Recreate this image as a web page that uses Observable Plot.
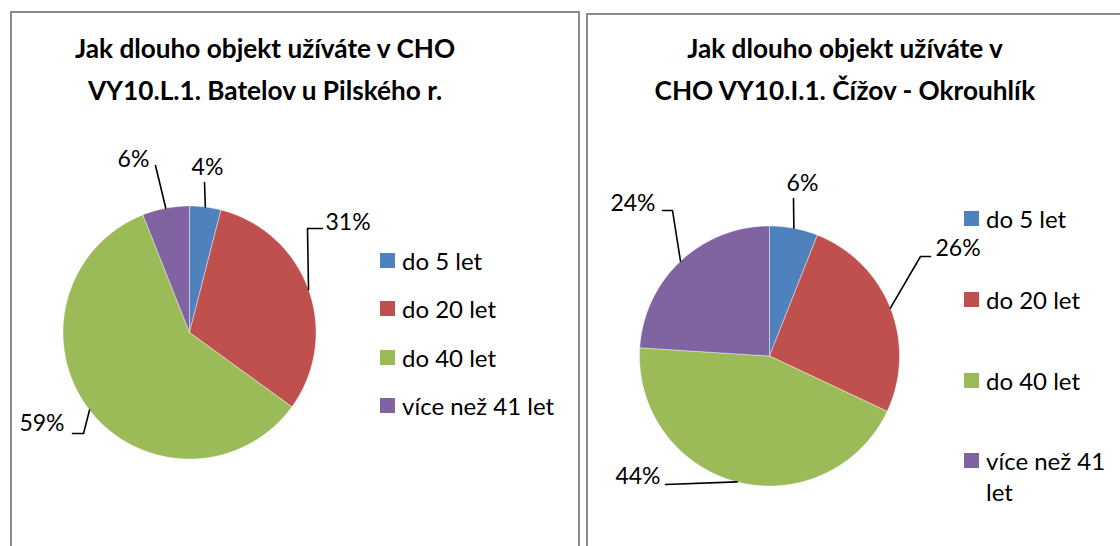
<!DOCTYPE html>
<html><head><meta charset="utf-8">
<script src="https://cdn.jsdelivr.net/npm/d3@7"></script>
<script src="https://cdn.jsdelivr.net/npm/@observablehq/plot@0.6"></script>
<style>
body{margin:0;background:#fff;}
#page{position:relative;width:1120px;height:546px;overflow:hidden;font-family:Lato,"Open Sans",sans-serif;color:#000;}
.panel{position:absolute;border:2px solid #8a8a8a;border-bottom:none;box-sizing:border-box;}
.title{position:absolute;width:560px;text-align:center;font-weight:bold;font-size:26.2px;line-height:42px;white-space:nowrap;}
.sw{position:absolute;width:15px;height:15px;}
.lt{position:absolute;font-size:24px;line-height:31px;}
.pie{position:absolute;top:0;}
</style></head><body><div id="page"></div>
<script>
// ---- data ----
const categories = ["do 5 let", "do 20 let", "do 40 let", "více než 41 let"];
const colors = ["#4F81BD", "#C0504D", "#9BBB59", "#8064A2"];
const titleBatelov = ["Jak dlouho objekt užíváte v CHO", "VY10.L.1. Batelov u Pilského r."];
const titleCizov = ["Jak dlouho objekt užíváte v", "CHO VY10.I.1. Čížov - Okrouhlík"];
const valuesBatelov = [4, 31, 59, 6];
const valuesCizov = [6, 26, 44, 24];

// ---- layout (pixels) ----
const panels = [
  {
    title: titleBatelov, values: valuesBatelov,
    box: {left: 10, top: 11, width: 570, height: 600, rightBorder: true},
    svgLeft: 0, svgWidth: 580, cx: 189, cy: 332, r: 126.5,
    titleX: 265, legendX: 380, legendRows: [260, 308, 357, 405], legendWrap: 200,
    // per slice: leader bend points and label position, relative to pie centre (px, y down)
    labels: [
      {bends: [[15, -150]], text: [18, -165], anchor: "middle"},
      {bends: [[118, -104], [133, -104]], text: [136, -110], anchor: "start"},
      {bends: [[-106, 101], [-117, 101]], text: [-125, 91], anchor: "end"},
      {bends: [[-34, -167]], text: [-56, -173], anchor: "middle"}
    ]
  },
  {
    title: titleCizov, values: valuesCizov,
    box: {left: 586, top: 13, width: 600, height: 600, rightBorder: false},
    svgLeft: 580, svgWidth: 540, cx: 189, cy: 355.5, r: 130,
    titleX: 845, legendX: 964, legendRows: [218.5, 299.5, 380, 460.5], legendWrap: 125,
    labels: [
      {bends: [[24, -157.5]], text: [33, -172.5], anchor: "middle"},
      {bends: [[151, -99.5], [161, -99.5]], text: [166, -107], anchor: "start"},
      {bends: [[-104, 128.5]], text: [-109, 120.5], anchor: "end"},
      {bends: [[-97, -145.5], [-107, -145.5]], text: [-114, -152], anchor: "end"}
    ]
  }
];

const page = document.getElementById("page");

for (const p of panels) {
  // border box
  const box = document.createElement("div");
  box.className = "panel";
  Object.assign(box.style, {left: p.box.left + "px", top: p.box.top + "px", width: p.box.width + "px", height: p.box.height + "px"});
  if (!p.box.rightBorder) box.style.borderRight = "none";
  page.appendChild(box);

  // title
  const t = document.createElement("div");
  t.className = "title";
  t.style.left = (p.titleX - 280) + "px";
  t.style.top = "27px";
  t.innerHTML = p.title.map(s => `<div>${s}</div>`).join("");
  page.appendChild(t);

  // pie geometry from values
  const total = d3.sum(p.values);
  const slices = [];
  let cum = 0;
  p.values.forEach((v, i) => {
    const a0 = cum / total * 2 * Math.PI;
    cum += v;
    const a1 = cum / total * 2 * Math.PI;
    slices.push({cat: categories[i], value: v, a0, a1, mid: (a0 + a1) / 2});
  });
  const arcPts = [];
  for (const s of slices) {
    const n = Math.max(4, Math.ceil((s.a1 - s.a0) * 180 / Math.PI));
    arcPts.push({cat: s.cat, x: 0, y: 0});
    for (let k = 0; k <= n; k++) {
      const a = s.a0 + (s.a1 - s.a0) * k / n;
      arcPts.push({cat: s.cat, x: Math.sin(a), y: Math.cos(a)});
    }
    arcPts.push({cat: s.cat, x: 0, y: 0});
  }
  const leaderPts = [];
  const labelData = [];
  slices.forEach((s, i) => {
    const L = p.labels[i];
    leaderPts.push({cat: s.cat, x: Math.sin(s.mid), y: Math.cos(s.mid)});
    for (const [dx, dy] of L.bends) leaderPts.push({cat: s.cat, x: dx / p.r, y: -dy / p.r});
    labelData.push({cat: s.cat, x: L.text[0] / p.r, y: -L.text[1] / p.r, text: s.value + "%", anchor: L.anchor});
  });

  const cx = p.cx, cy = p.cy, r = p.r;
  const plot = Plot.plot({
    width: p.svgWidth, height: 546,
    margin: 0,
    style: {background: "transparent", overflow: "visible", fontFamily: "Lato, 'Open Sans', sans-serif"},
    x: {domain: [-1, 1], range: [cx - r, cx + r], axis: null},
    y: {domain: [-1, 1], range: [cy + r, cy - r], axis: null},
    color: {domain: categories, range: colors},
    marks: [
      Plot.line(arcPts, {x: "x", y: "y", z: "cat", fill: "cat", stroke: "white", strokeWidth: 0.4, curve: "linear"}),
      Plot.line(leaderPts, {x: "x", y: "y", z: "cat", stroke: "black", strokeWidth: 1.6}),
      ...["start", "middle", "end"].map(anc =>
        Plot.text(labelData.filter(d => d.anchor === anc), {x: "x", y: "y", text: "text", textAnchor: anc, fontSize: 23, fill: "black"}))
    ]
  });
  plot.classList.add("pie");
  plot.style.left = p.svgLeft + "px";
  plot.style.maxWidth = "none";
  page.appendChild(plot);

  // legend
  categories.forEach((c, i) => {
    const y = p.legendRows[i];
    const sw = document.createElement("div");
    sw.className = "sw";
    Object.assign(sw.style, {left: p.legendX + "px", top: (y - 7.5) + "px", background: colors[i]});
    page.appendChild(sw);
    const lt = document.createElement("div");
    lt.className = "lt";
    Object.assign(lt.style, {left: (p.legendX + 22) + "px", top: (y - 15.5) + "px", width: p.legendWrap + "px"});
    lt.textContent = c;
    page.appendChild(lt);
  });
}
</script>
</body></html>
